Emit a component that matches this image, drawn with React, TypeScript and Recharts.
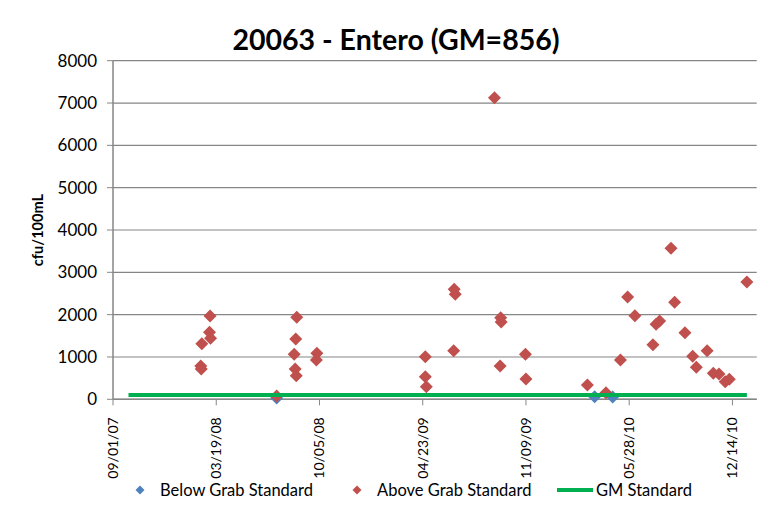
import React from "react";
import { ScatterChart, Scatter, XAxis, YAxis, CartesianGrid, Legend } from "recharts";

const toTs = (s: string) => {
  const [y, m, d] = s.split("-").map(Number);
  return Date.UTC(y, m - 1, d);
};

// sample dates and values (cfu/100mL)
const aboveDates = [
  "2008-02-18", "2008-02-19", "2008-02-20", "2008-03-06", "2008-03-07", "2008-03-08",
  "2008-07-14", "2008-08-17", "2008-08-19", "2008-08-20", "2008-08-21", "2008-08-22",
  "2008-09-30", "2008-09-29", "2009-04-28", "2009-04-28", "2009-04-30", "2009-06-22",
  "2009-06-23", "2009-06-25", "2009-09-09", "2009-09-20", "2009-09-21", "2009-09-22",
  "2009-11-08", "2009-11-09", "2010-03-08", "2010-04-13", "2010-05-11", "2010-05-25",
  "2010-06-08", "2010-07-13", "2010-07-19", "2010-07-26", "2010-08-17", "2010-08-24",
  "2010-09-13", "2010-09-28", "2010-10-05", "2010-10-26", "2010-11-07", "2010-11-18",
  "2010-11-30", "2010-12-08", "2011-01-11",
];
const aboveValues = [
  787, 716, 1314, 1583, 1967, 1441,
  80, 1063, 716, 1424, 558, 1937,
  1087, 929, 1007, 535, 299, 1149,
  2598, 2480, 7125, 787, 1929, 1826,
  1063, 480, 338, 156, 929, 2417,
  1975, 1290, 1772, 1850, 3567, 2292,
  1573, 1016, 756, 1149, 614, 598,
  416, 472, 2771,
];

const belowDates = ["2008-07-14", "2010-03-22", "2010-04-26"];
const belowValues = [30, 60, 55];

const gmDates = ["2007-10-01", "2011-01-11"];
const gmValues = [104, 104];

const xTickDates = ["2007-09-01", "2008-03-19", "2008-10-05", "2009-04-23", "2009-11-09", "2010-05-28", "2010-12-14"];
const xMin = "2007-09-01";
const xMax = "2011-01-30";
const yTicks = [0, 1000, 2000, 3000, 4000, 5000, 6000, 7000, 8000];

const aboveData = aboveDates.map((d, i) => ({ x: toTs(d), y: aboveValues[i] }));
const belowData = belowDates.map((d, i) => ({ x: toTs(d), y: belowValues[i] }));
const gmData = gmDates.map((d, i) => ({ x: toTs(d), y: gmValues[i] }));

const W = 776;
const H = 505;
const FONT = "Lato, 'Open Sans', sans-serif";
const GRID = "#868686";
const BLUE = "#4F81BD";
const RED = "#C0504D";
const GREEN = "#00B050";

const fmtDate = (v: number) => {
  const dt = new Date(v);
  const mm = String(dt.getUTCMonth() + 1).padStart(2, "0");
  const dd = String(dt.getUTCDate()).padStart(2, "0");
  const yy = String(dt.getUTCFullYear() % 100).padStart(2, "0");
  return `${mm}/${dd}/${yy}`;
};

const Diamond = (props: any) => {
  const { cx, cy, fill } = props;
  const r = 6.5;
  if (cx == null || cy == null) return <g />;
  return <polygon points={`${cx},${cy - r} ${cx + r},${cy} ${cx},${cy + r} ${cx - r},${cy}`} fill={fill} />;
};

const DateTick = (props: any) => {
  const { x, y, payload } = props;
  const ty = y + 10;
  return (
    <text
      x={x}
      y={ty}
      transform={`rotate(-90, ${x}, ${ty})`}
      textAnchor="end"
      dy="0.35em"
      fontSize={14}
      fill="#000"
    >
      {fmtDate(payload.value)}
    </text>
  );
};

const LegendBox = () => {
  const item = (left: number, marker: React.ReactNode, label: string) => (
    <div style={{ position: "absolute", left, top: 0, display: "flex", alignItems: "center", height: 22 }}>
      {marker}
      <span style={{ fontSize: 16.5, color: "#000", whiteSpace: "nowrap" }}>{label}</span>
    </div>
  );
  const diamond = (c: string) => (
    <svg width={28} height={14}>
      <polygon points="8,2.5 12.5,7 8,11.5 3.5,7" fill={c} />
    </svg>
  );
  return (
    <div style={{ position: "relative", width: W, height: 30, fontFamily: FONT }}>
      {item(124, diamond(BLUE), "Below Grab Standard")}
      {item(341, diamond(RED), "Above Grab Standard")}
      {item(
        549,
        <svg width={39} height={14}>
          <line x1={0} y1={7} x2={36} y2={7} stroke={GREEN} strokeWidth={4} />
        </svg>,
        "GM Standard"
      )}
    </div>
  );
};

export default function App() {
  return (
    <div
      style={{
        position: "relative",
        left: -1,
        top: -1,
        width: W,
        height: H,
        borderLeft: "1px solid #a6a6a6",
        borderTop: "1px solid #a6a6a6",
        fontFamily: FONT,
        background: "#fff",
      }}
    >
      <div
        style={{
          position: "absolute",
          left: 0,
          width: W,
          top: 14,
          textAlign: "center",
          fontSize: 28.5,
          lineHeight: "34px",
          fontWeight: 700,
        }}
      >
        20063 - Entero (GM=856)
      </div>
      <ScatterChart width={W} height={H} margin={{ top: 52.7, right: 27.3, left: 45, bottom: 3.7 }}>
        <CartesianGrid horizontal vertical={false} stroke={GRID} strokeWidth={1.2} />
        <XAxis
          type="number"
          dataKey="x"
          domain={[toTs(xMin), toTs(xMax)]}
          ticks={xTickDates.map(toTs)}
          tick={<DateTick />}
          height={80}
          tickSize={6}
          axisLine={{ stroke: GRID, strokeWidth: 1.5 }}
          tickLine={{ stroke: GRID }}
          interval={0}
          allowDataOverflow
        />
        <YAxis
          type="number"
          dataKey="y"
          domain={[0, 8000]}
          ticks={yTicks}
          width={60}
          tickSize={6}
          tickMargin={10}
          interval={0}
          axisLine={{ stroke: GRID, strokeWidth: 1.5 }}
          tickLine={{ stroke: GRID }}
          tick={{ fill: "#000", fontSize: 17 }}
          label={(p: any) => {
            const vb = p.viewBox || { x: 45, y: 52.7, width: 60, height: 338.6 };
            const cy = vb.y + vb.height / 2;
            return (
              <text x={30} y={cy} transform={`rotate(-90, 30, ${cy})`} textAnchor="middle" dy="0.35em" fontSize={14.6} fontWeight={700} fill="#000">
                cfu/100mL
              </text>
            );
          }}
        />
        <Legend verticalAlign="bottom" height={30} wrapperStyle={{ left: 0, width: W }} content={() => <LegendBox />} />
        <Scatter name="Below Grab Standard" data={belowData} fill={BLUE} shape={<Diamond />} isAnimationActive={false} />
        <Scatter name="Above Grab Standard" data={aboveData} fill={RED} shape={<Diamond />} isAnimationActive={false} />
        <Scatter
          name="GM Standard"
          data={gmData}
          fill={GREEN}
          line={{ stroke: GREEN, strokeWidth: 4 }}
          shape={() => <g />}
          isAnimationActive={false}
        />
      </ScatterChart>
    </div>
  );
}
